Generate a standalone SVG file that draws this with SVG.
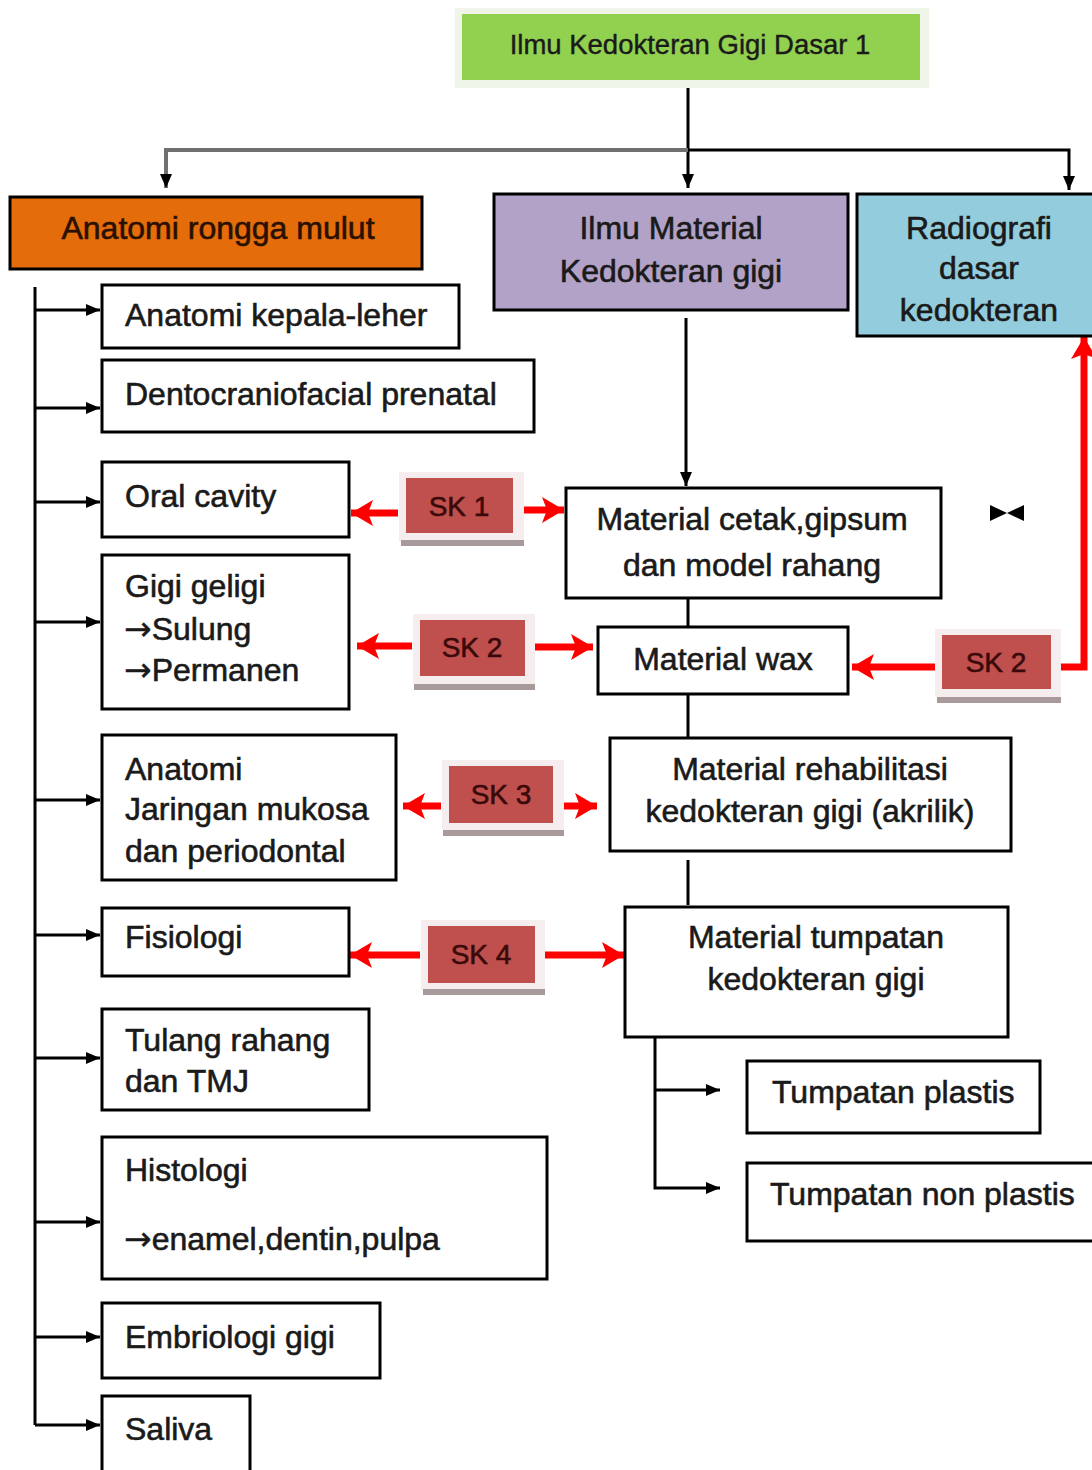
<svg xmlns="http://www.w3.org/2000/svg" width="1092" height="1470" viewBox="0 0 1092 1470">
<defs>
<style>
text{font-family:"Liberation Sans",Arial,sans-serif;font-size:32px;fill:#1a1a1a;stroke:#1a1a1a;stroke-width:0.6}
.c{text-anchor:middle}
.tt{font-size:27.5px;stroke-width:0.4}
.ar{font-family:"DejaVu Sans",sans-serif;font-size:33px;stroke-width:0.3}
.box{fill:#fff;stroke:#000;stroke-width:3}
.ln{stroke:#000;stroke-width:3;fill:none}
.rd{stroke:#ff0000;stroke-width:7;fill:none}
.sk{fill:#c0504d}
.skg{fill:#f6eeee}
.sks{fill:#a89a9a}
.skt{font-size:28px;fill:#3a0a0a;stroke:#3a0a0a;text-anchor:middle}
</style>
<marker id="ab" viewBox="0 0 14 12" refX="14" refY="6" markerWidth="14" markerHeight="12" markerUnits="userSpaceOnUse" orient="auto"><path d="M0,0 L14,6 L0,12 z" fill="#000"/></marker>
<marker id="ar" viewBox="0 0 22 26" refX="22" refY="13" markerWidth="22" markerHeight="26" markerUnits="userSpaceOnUse" orient="auto"><path d="M0,0 L22,13 L0,26 L5,13 z" fill="#ff0000"/></marker>
</defs>
<rect width="1092" height="1470" fill="#fff"/>

<g id="connectors">
<path class="ln" d="M688,88 V188" marker-end="url(#ab)"/>
<path d="M688,150 H166 V188" fill="none" stroke="#707070" stroke-width="4" marker-end="url(#ab)"/>
<path class="ln" d="M688,150 H1069 V190" marker-end="url(#ab)"/>
<path class="ln" d="M35,287 V1425"/>
<path class="ln" d="M35,310 H100" marker-end="url(#ab)"/>
<path class="ln" d="M35,408 H100" marker-end="url(#ab)"/>
<path class="ln" d="M35,502 H100" marker-end="url(#ab)"/>
<path class="ln" d="M35,622 H100" marker-end="url(#ab)"/>
<path class="ln" d="M35,800 H100" marker-end="url(#ab)"/>
<path class="ln" d="M35,935 H100" marker-end="url(#ab)"/>
<path class="ln" d="M35,1058 H100" marker-end="url(#ab)"/>
<path class="ln" d="M35,1222 H100" marker-end="url(#ab)"/>
<path class="ln" d="M35,1337 H100" marker-end="url(#ab)"/>
<path class="ln" d="M35,1425 H100" marker-end="url(#ab)"/>
<path class="ln" d="M686,318 V486" stroke-width="2" marker-end="url(#ab)"/>
<path class="ln" d="M688,598 V627"/>
<path class="ln" d="M688,694 V738"/>
<path class="ln" d="M688,860 V905"/>
<path class="ln" d="M655,1037 V1188 H720" marker-end="url(#ab)"/>
<path class="ln" d="M655,1090 H720" marker-end="url(#ab)"/>
<path class="rd" d="M398,513 H351" marker-end="url(#ar)"/>
<path class="rd" d="M522,510 H564" marker-end="url(#ar)"/>
<path class="rd" d="M412,646 H357" marker-end="url(#ar)"/>
<path class="rd" d="M534,647 H593" marker-end="url(#ar)"/>
<path class="rd" d="M441,806 H403" marker-end="url(#ar)"/>
<path class="rd" d="M560,806 H597" marker-end="url(#ar)"/>
<path class="rd" d="M420,955 H350" marker-end="url(#ar)"/>
<path class="rd" d="M544,955 H624" marker-end="url(#ar)"/>
<path class="rd" d="M935,667 H852" marker-end="url(#ar)"/>
<path class="rd" d="M1058,667 H1084 V337" marker-end="url(#ar)" stroke-width="5"/>
</g>

<g id="top">
<rect x="455" y="8" width="474" height="80" fill="#f0f5ea"/>
<rect x="462" y="14" width="458" height="66" fill="#92d050"/>
<text class="c tt" x="690" y="54">Ilmu Kedokteran Gigi Dasar 1</text>
</g>

<g id="anatomi">
<rect x="10" y="197" width="412" height="72" fill="#e46c0a" stroke="#000" stroke-width="3"/>
<text class="c" x="218" y="239" style="fill:#2a1000;stroke:#2a1000">Anatomi rongga mulut</text>
</g>
<g id="material">
<rect x="494" y="194" width="354" height="116" fill="#b3a2c7" stroke="#000" stroke-width="3"/>
<text class="c" x="671" y="239">Ilmu Material</text>
<text class="c" x="671" y="282">Kedokteran gigi</text>
</g>
<g id="radiografi">
<rect x="857" y="194" width="240" height="142" fill="#93cddd" stroke="#000" stroke-width="3"/>
<text class="c" x="979" y="239">Radiografi</text>
<text class="c" x="979" y="279">dasar</text>
<text class="c" x="979" y="321">kedokteran</text>
</g>

<g id="l1"><rect class="box" x="102" y="285" width="357" height="63"/><text x="125" y="326">Anatomi kepala-leher</text></g>
<g id="l2"><rect class="box" x="102" y="360" width="432" height="72"/><text x="125" y="405">Dentocraniofacial prenatal</text></g>
<g id="l3"><rect class="box" x="102" y="462" width="247" height="75"/><text x="125" y="507">Oral cavity</text></g>
<g id="l4"><rect class="box" x="102" y="555" width="247" height="154"/><text x="125" y="597">Gigi geligi</text><text x="124" y="640"><tspan class="ar">→</tspan>Sulung</text><text x="124" y="681"><tspan class="ar">→</tspan>Permanen</text></g>
<g id="l5"><rect class="box" x="102" y="735" width="294" height="145"/><text x="125" y="780">Anatomi</text><text x="125" y="820">Jaringan mukosa</text><text x="125" y="862">dan periodontal</text></g>
<g id="l6"><rect class="box" x="102" y="908" width="247" height="68"/><text x="125" y="948">Fisiologi</text></g>
<g id="l7"><rect class="box" x="102" y="1009" width="267" height="101"/><text x="125" y="1051">Tulang rahang</text><text x="125" y="1092">dan TMJ</text></g>
<g id="l8"><rect class="box" x="102" y="1137" width="445" height="142"/><text x="125" y="1181">Histologi</text><text x="124" y="1250"><tspan class="ar">→</tspan>enamel,dentin,pulpa</text></g>
<g id="l9"><rect class="box" x="102" y="1303" width="278" height="75"/><text x="125" y="1348">Embriologi gigi</text></g>
<g id="l10"><rect class="box" x="102" y="1396" width="148" height="80"/><text x="125" y="1440">Saliva</text></g>

<g id="m1"><rect class="box" x="566" y="488" width="375" height="110"/><text class="c" x="752" y="530">Material cetak,gipsum</text><text class="c" x="752" y="576">dan model rahang</text></g>
<g id="m2"><rect class="box" x="598" y="627" width="250" height="67"/><text class="c" x="723" y="670">Material wax</text></g>
<g id="m3"><rect class="box" x="610" y="738" width="401" height="113"/><text class="c" x="810" y="780">Material rehabilitasi</text><text class="c" x="810" y="822">kedokteran gigi (akrilik)</text></g>
<g id="m4"><rect class="box" x="625" y="907" width="383" height="130"/><text class="c" x="816" y="948">Material tumpatan</text><text class="c" x="816" y="990">kedokteran gigi</text></g>
<g id="t1"><rect class="box" x="747" y="1061" width="293" height="72"/><text x="772" y="1103">Tumpatan plastis</text></g>
<g id="t2"><rect class="box" x="747" y="1163" width="350" height="78"/><text x="770" y="1205">Tumpatan non plastis</text></g>

<g id="sk1"><rect class="skg" x="399" y="472" width="125" height="70"/><rect class="sks" x="401" y="540" width="123" height="6"/><rect class="sk" x="406" y="478" width="107" height="55"/><text class="skt" x="459" y="516">SK 1</text></g>
<g id="sk2a"><rect class="skg" x="413" y="614" width="122" height="70"/><rect class="sks" x="414" y="684" width="121" height="6"/><rect class="sk" x="420" y="620" width="105" height="56"/><text class="skt" x="472" y="657">SK 2</text></g>
<g id="sk3"><rect class="skg" x="442" y="760" width="122" height="70"/><rect class="sks" x="443" y="830" width="121" height="6"/><rect class="sk" x="449" y="766" width="104" height="57"/><text class="skt" x="501" y="804">SK 3</text></g>
<g id="sk4"><rect class="skg" x="421" y="920" width="124" height="70"/><rect class="sks" x="423" y="989" width="122" height="6"/><rect class="sk" x="428" y="926" width="107" height="57"/><text class="skt" x="481" y="964">SK 4</text></g>
<g id="sk2b"><rect class="skg" x="935" y="629" width="126" height="68"/><rect class="sks" x="937" y="697" width="124" height="6"/><rect class="sk" x="942" y="635" width="109" height="54"/><text class="skt" x="996" y="672">SK 2</text></g>

<g id="bowtie"><path d="M990,505 L1007,513 L990,521 z M1024,505 L1007,513 L1024,521 z" fill="#000"/></g>
</svg>
